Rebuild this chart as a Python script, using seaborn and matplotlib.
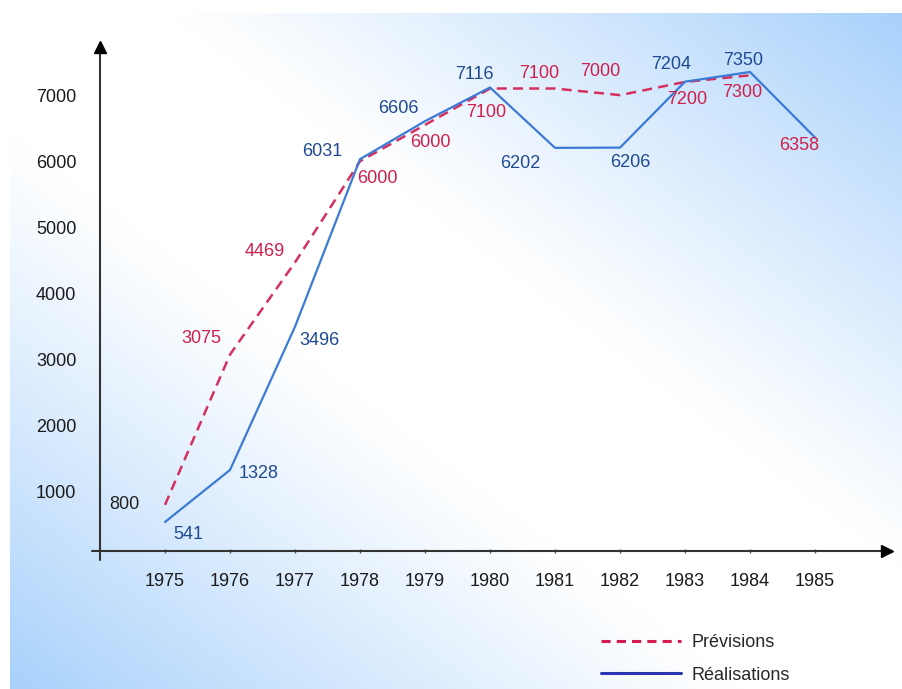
import numpy as np
import pandas as pd
import matplotlib
matplotlib.use("Agg")
import matplotlib.pyplot as plt
import seaborn as sns
from matplotlib.lines import Line2D

# data
years = [1975, 1976, 1977, 1978, 1979, 1980, 1981, 1982, 1983, 1984, 1985]
prev_years = [1975, 1976, 1977, 1978, 1979, 1980, 1981, 1982, 1983, 1984]
prev_values = [800, 3075, 4469, 6000, 6550, 7100, 7100, 7000, 7200, 7300]
prev_labels = ["800", "3075", "4469", "6000", "6000", "7100", "7100", "7000", "7200", "7300"]
real_values = [541, 1328, 3496, 6031, 6606, 7116, 6202, 6206, 7204, 7350, 6358]
real_labels = ["541", "1328", "3496", "6031", "6606", "7116", "6202", "6206", "7204", "7350", "6358"]
y_ticks = [1000, 2000, 3000, 4000, 5000, 6000, 7000]

# label placement (pixels, relative to the point)
prev_offsets = [(-41, 0), (-29, 16), (-30, 11), (17, -17), (5, -18), (-4, -24),
                (-16, 15), (-20, 24), (2, -18), (-8, -17)]
real_offsets = [(23, -13), (29, -4), (24, -14), (-38, 8), (-27, 13), (-16, 13),
                (-35, -16), (10, -15), (-14, 17), (-7, 12), (-16, -8)]

RED = "#d42f5e"
RED_TXT = "#cf1f4b"
BLUE = "#3b7bd4"
BLUE_TXT = "#1f4a92"

sns.set_style("white")
plt.rcParams["font.family"] = ["Liberation Sans", "DejaVu Sans"]

fig = plt.figure(figsize=(9.03, 6.89), dpi=100)

# gradient background
bg = fig.add_axes([10 / 903, 0, 893 / 903, 676 / 689])
u, v = np.meshgrid(np.linspace(0, 1, 300), np.linspace(1, 0, 300))
d = np.abs(u + v - 1)
w = np.clip((d - 0.18) / 0.82, 0, 1) ** 1.1
c_blue = np.array([0.66, 0.82, 0.985])
img = (1 - w[..., None]) * np.ones(3) + w[..., None] * c_blue
bg.imshow(img, aspect="auto", extent=[0, 1, 0, 1])
bg.axis("off")

ax = fig.add_axes([100 / 903, (689 - 551) / 689, 795 / 903, 509 / 689])
ax.set_facecolor("none")

df_prev = pd.DataFrame({"annee": prev_years, "valeur": prev_values})
df_real = pd.DataFrame({"annee": years, "valeur": real_values})

sns.lineplot(data=df_prev, x="annee", y="valeur", ax=ax, color=RED,
             linewidth=1.8, linestyle=(0, (4, 2.5)))
sns.lineplot(data=df_real, x="annee", y="valeur", ax=ax, color=BLUE,
             linewidth=1.6)

for x, y, t, off in zip(prev_years, prev_values, prev_labels, prev_offsets):
    col = "#222222" if t == "800" else RED_TXT
    ax.annotate(t, (x, y), xytext=off, textcoords="offset pixels",
                ha="center", va="center", fontsize=13, color=col)
for x, y, t, off in zip(years, real_values, real_labels, real_offsets):
    col = RED_TXT if t == "6358" else BLUE_TXT
    ax.annotate(t, (x, y), xytext=off, textcoords="offset pixels",
                ha="center", va="center", fontsize=13, color=col)

ax.set_xlim(1974.0, 1986.23)
ax.set_ylim(102, 7804)
for s in ax.spines.values():
    s.set_visible(False)

# arrow axes
tr = ax.transAxes
ax.plot([0, 0], [-0.018, 0.985], transform=tr, color="#333333", lw=1.5, clip_on=False)
ax.plot([-0.01, 0.985], [0, 0], transform=tr, color="#333333", lw=1.5, clip_on=False)
ax.plot(0, 0.99, "^", transform=tr, color="black", markersize=8, clip_on=False)
ax.plot(0.99, 0, ">", transform=tr, color="black", markersize=8, clip_on=False)

ax.set_xticks(years)
ax.set_xticklabels([str(y) for y in years])
ax.set_yticks(y_ticks)
ax.set_yticklabels([str(y) for y in y_ticks])
ax.tick_params(axis="x", length=3, width=1, color="#555555", direction="inout",
               pad=14, labelsize=13, labelcolor="#1a1a1a", bottom=True)
ax.tick_params(axis="y", length=0, pad=17, labelsize=13, labelcolor="#1a1a1a", left=True)
ax.set_xlabel("")
ax.set_ylabel("")

handles = [Line2D([], [], color="#d41c50", lw=2.2, linestyle=(0, (3, 2))),
           Line2D([], [], color="#2a35b0", lw=2.2)]
fig.legend(handles, ["Prévisions", "Réalisations"], loc="upper left",
           bbox_to_anchor=(585 / 903, 1 - 618 / 689), frameon=False,
           fontsize=13, handlelength=4.4, handletextpad=0.6, labelspacing=0.85)

fig.savefig("out.png", dpi=100)
